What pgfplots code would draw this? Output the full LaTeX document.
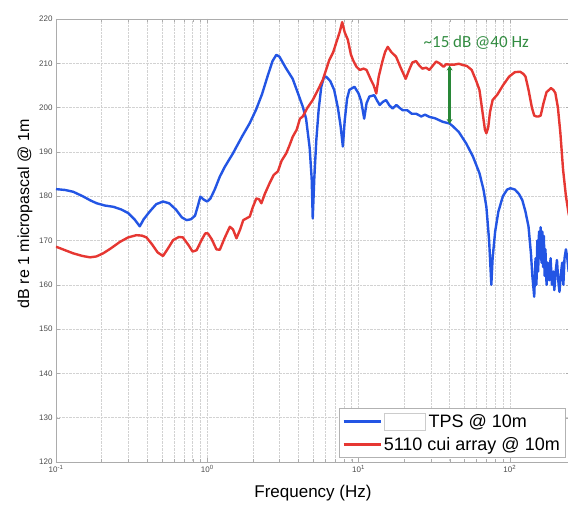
\documentclass[border=0pt]{standalone}
\usepackage{pgfplots}
\pgfplotsset{compat=1.18}
\usepackage{fontspec}
\setmainfont{Liberation Sans}
\newfontfamily\carlito{Carlito}
\usetikzlibrary{arrows.meta}
\definecolor{tpsblue}{RGB}{35,85,228}
\definecolor{cuired}{RGB}{230,55,50}
\definecolor{annot}{RGB}{50,140,65}
\definecolor{annotarrow}{RGB}{40,135,55}
\begin{document}
\begin{tikzpicture}
\useasboundingbox (-56pt,-44pt) rectangle (512pt,462pt);
\begin{axis}[
  at={(0pt,0pt)}, anchor=south west,
  scale only axis, width=514pt, height=443pt,
  xmode=log, xmin=0.1, xmax=250, ymin=120, ymax=220,
  ytick={120,130,...,220},
  xtick={0.1,1,10,100},
  xticklabels={10\textsuperscript{-1},10\textsuperscript{0},10\textsuperscript{1},10\textsuperscript{2}},
  /pgf/number format/assume math mode=true,
  ticklabel style={font=\fontsize{8}{9}\selectfont, text=black!70},
  grid=both,
  major grid style={densely dotted, gray!35},
  minor grid style={densely dotted, gray!35},
  axis line style={gray!65},
  tick style={gray!65},
  xlabel={Frequency (Hz)},
  ylabel={dB re 1 micropascal @ 1m},
  xlabel style={at={(axis description cs:0.5,-0.07)}, anchor=center, font=\fontsize{17}{20}\selectfont},
  ylabel style={at={(axis description cs:-0.0603,0.56)}, anchor=center, rotate=0, font=\fontsize{16}{18}\selectfont},
  legend style={at={(axis description cs:0.9903,0.0113)}, anchor=south east, draw=gray!60,
    font=\fontsize{18}{21}\selectfont, row sep=4pt, inner xsep=3pt, inner ysep=3pt},
  legend cell align=left,
  legend image code/.code={\draw[#1, line width=2.5pt] (0pt,0pt) -- (37pt,0pt);},
]
\addplot[tpsblue, line width=2.4pt, line join=round] coordinates {
(0.1,181.6) (0.115,181.4) (0.13,181.0) (0.15,180.0) (0.17,179.0) (0.186,178.4) (0.21,177.9) (0.24,177.6) (0.27,177.0) (0.3,176.2) (0.33,174.8) (0.358,173.2) (0.38,174.8) (0.418,176.6) (0.46,178.2) (0.51,178.8) (0.56,178.4) (0.62,177.0) (0.68,175.2) (0.73,174.6) (0.78,174.8) (0.83,175.6) (0.87,178) (0.9,179.9) (0.95,179.2) (1.0,178.8) (1.05,179.5) (1.12,181.5) (1.21,184.4) (1.3,186.5) (1.48,189.7) (1.7,193.5) (1.91,196.5) (2.1,199.5) (2.3,203) (2.5,207) (2.7,210.5) (2.86,211.9) (3.0,211.5) (3.3,209) (3.67,206.5) (4.0,203) (4.28,200.2) (4.5,197.5) (4.75,191) (4.9,184) (4.98,175.0) (5.1,184) (5.26,192.7) (5.45,199.5) (5.67,204.7) (5.9,206.8) (6.1,207) (6.5,206) (6.9,204) (7.3,200) (7.6,196) (7.88,191.2) (8.1,197) (8.4,202) (8.7,204) (9.4,204.7) (10.0,203.2) (10.4,201.5) (10.9,197.5) (11.3,201) (11.8,202.5) (12.7,202.8) (13.3,201.5) (13.8,200.6) (14.5,201.3) (15.2,201.7) (16.0,200.5) (16.8,199.8) (17.8,200.6) (18.6,200) (19.6,199.4) (21,199.4) (22.5,198.6) (24.1,198.6) (26,198.0) (27.5,198.4) (29.4,197.9) (32,197.6) (36,196.8) (40,196.4) (42,195.8) (46,194.5) (51.5,191.9) (57,189) (63,185.2) (67,181.5) (70,177.6) (73,170) (75.5,160) (77,166) (80,172) (84,176.5) (90,180) (96,181.5) (101,181.8) (108,181.5) (115,180.5) (121,179.1) (127,176.5) (133,173.1) (138,167) (141,162) (145,157.3) (148,166) (150,160) (152,170) (154,163) (156,172) (158,166) (160,173) (162,165) (164,172) (166,164) (168,171) (170,162) (172,168) (175,160) (178,165) (182,161) (186,166) (190,160) (194,163) (197,158.8) (201,163) (205,165.6) (209,161) (213,158.4) (217,162) (222,165) (226,160) (230,166) (235,168) (240,166) (245,163) (250,165)
};
\addlegendentry{\raisebox{-2pt}{{\setlength{\fboxsep}{0pt}\fcolorbox{black!20}{white}{\rule{0pt}{16pt}\rule{41pt}{0pt}}}}\hspace{3pt}TPS @ 10m}
\addplot[cuired, line width=2.4pt, line join=round] coordinates {
(0.1,168.6) (0.115,167.8) (0.13,167.1) (0.15,166.5) (0.168,166.2) (0.185,166.4) (0.205,167.1) (0.23,168.2) (0.265,169.7) (0.3,170.7) (0.34,171.2) (0.37,171.1) (0.396,170.7) (0.43,169.2) (0.47,167.3) (0.51,166.5) (0.55,168.2) (0.595,170.1) (0.65,170.8) (0.69,170.7) (0.75,169) (0.8,167.5) (0.85,167.8) (0.92,170.2) (0.97,171.6) (1.01,171.6) (1.07,170.3) (1.15,168) (1.21,167.9) (1.3,170.5) (1.41,173.1) (1.48,172.5) (1.56,170.5) (1.65,172.5) (1.73,174.6) (1.91,175.4) (2.0,177.5) (2.11,179.5) (2.2,179.3) (2.28,178.4) (2.4,180.5) (2.58,182.9) (2.75,184.8) (2.93,185.6) (3.1,188) (3.33,189.7) (3.5,191.5) (3.67,193.4) (3.9,195) (4.1,197.5) (4.28,198) (4.6,200) (4.98,201.7) (5.3,203.5) (5.8,206.2) (6.1,208.5) (6.4,210.7) (6.8,212.5) (7.1,214.5) (7.5,217) (7.8,219.3) (8.1,217) (8.5,215.3) (8.9,212) (9.2,210.7) (9.7,209.2) (10.2,208.5) (10.8,208.8) (11.3,208.5) (12.1,206.2) (12.6,205) (13.1,203.2) (13.6,207) (14.4,210.5) (15.0,212.6) (15.6,213.7) (16.5,212.5) (17.7,211.5) (19,209) (20.5,206.5) (21.6,208.5) (22.7,210.2) (24,210.5) (25.2,209.5) (26.4,208.8) (28,209) (29.4,208.5) (31,209.5) (32.6,210.4) (34.3,210) (36.5,209.2) (38,209.8) (40,209.7) (43,209.7) (46,209.9) (49,209.6) (52,209.4) (56,208.5) (60,206) (63,204) (66,199) (68.5,195) (70,194.2) (72,195.5) (74,199) (77,201.7) (83,203) (90,205) (99,207) (108,208) (117,208.1) (123,207.6) (127,207) (133,204) (140,200) (145,198.2) (150,198) (155,198) (160,198.2) (167,201) (175,203.5) (182,204) (187,204.4) (194,204) (200,203.3) (208,200) (216,194.2) (225,186) (235,180) (245,176) (250,175)
};
\addlegendentry{5110 cui array @ 10m}
\draw[annotarrow, line width=2.3pt, {Stealth[length=5pt,width=6pt]}-{Stealth[length=5pt,width=6pt]}] (axis cs:40,196.3) -- (axis cs:40,209.5);
\node[font=\carlito\fontsize{17}{19}\selectfont, text=annot] at (axis cs:60,214.6) {\textasciitilde15 dB @40 Hz};
\end{axis}
\end{tikzpicture}
\end{document}
